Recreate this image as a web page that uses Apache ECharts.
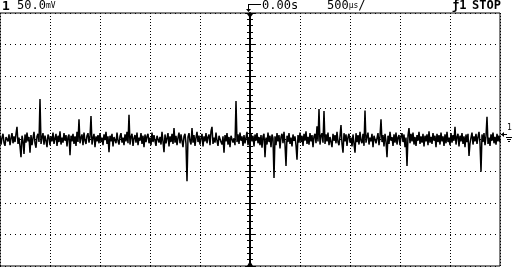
<!DOCTYPE html>
<html><head><meta charset="utf-8">
<script src="https://cdn.jsdelivr.net/npm/echarts@6/dist/echarts.min.js"></script>
<style>html,body{margin:0;padding:0;background:#fff}#c{width:512px;height:280px}</style>
</head><body><div id="c"></div>
<script>
// Channel 1 trace, mV, one sample every 10 µs from -2500 µs
const startUs = -2500;
const stepUs = 10;
const traceMv = [
 6,-8,3,9,-5,-10,4,7,-3,8,-9,2,10,-6,5,-4,9,20,-7,3,-11,-28,6,-2,-23,
 8,-5,11,-3,4,-21,7,-9,2,12,-6,-13,5,9,-4,64,-7,3,10,-8,6,-2,-12,8,4,
 -9,5,-3,11,-7,2,9,-10,6,-4,13,-8,3,-5,10,-2,7,-11,4,8,-25,6,-3,9,-7,
 5,-10,12,-4,32,-6,3,8,-9,11,-2,-7,6,10,-5,4,37,-8,2,9,-12,5,-3,7,-6,
 10,-4,3,-9,8,-1,12,-7,5,-20,6,-3,9,-11,4,7,-6,11,-2,-8,5,10,-5,3,-9,
 8,-3,12,-6,39,-8,4,9,-10,2,7,-5,11,-9,3,-2,10,-7,6,-12,8,-4,5,9,-6,
 3,-9,11,-4,7,-2,-10,6,9,-5,4,-8,12,-3,-20,8,-6,2,10,-11,5,-4,9,-7,18,
 -5,6,-9,3,11,-6,8,-2,-12,5,9,-7,-66,4,10,-3,-8,18,-5,7,-10,3,12,-4,6,
 -8,2,9,-11,5,-3,10,-6,4,8,-9,13,20,-7,3,-5,11,-2,-10,6,9,-4,-8,5,-21,
 7,-3,10,-8,4,-12,6,9,-5,2,-9,61,-4,8,-7,11,-2,5,-10,7,-6,3,12,-9,4,
 -7,9,-3,6,-11,8,-2,10,-6,4,-9,7,-13,5,9,-28,3,-8,11,-4,6,-12,8,2,-61,
 5,-9,10,-3,7,-14,4,9,-6,12,-8,-42,6,-4,10,-7,3,-11,8,-2,5,-9,-32,7,-5,
 11,-4,6,-10,9,-2,13,-7,4,-8,10,-3,7,-12,5,9,-6,21,-3,48,-8,6,10,-5,45,
 -7,8,-3,11,-9,4,6,-12,9,-2,7,-6,12,-4,-9,5,23,-7,-21,10,-3,8,-10,4,9,
 -5,3,-11,8,6,-21,10,-4,7,-8,12,-2,-6,9,-10,46,-5,4,11,-8,3,-3,9,-12,6,
 8,-6,2,10,-9,5,32,-4,7,-11,9,-3,-28,6,-7,12,-2,4,-10,8,-5,11,-8,3,7,
 -9,5,10,-4,8,-12,3,-42,6,18,-6,9,-3,11,-8,4,-10,7,-2,12,-7,5,-5,9,-11,
 6,-3,8,-9,13,-5,4,-7,10,-2,6,-12,9,-4,7,-8,11,-3,5,-10,8,-6,12,-4,3,
 -9,10,-5,7,-2,20,-8,4,9,-11,6,-3,10,-7,5,-12,8,-4,9,-26,-6,3,11,-8,5,
 -3,9,-7,4,12,-6,-51,8,-4,10,-9,5,36,-7,3,-10,8,-2,11,-6,4,-8,9,-3,6,
 -4
];
// axis settings (screen divisions)
const xMinUs = -2500, xMaxUs = 2500, xDivUs = 500;
const yMinMv = -200, yMaxMv = 200, yDivMv = 50;
// header texts
const chLabel = '1';
const voltsDiv = '50.0';
const voltsUnit = 'mV';
const trigDelay = '0.00s';
const timeDiv = '500';
const timeUnit = 'µs';
const trigSrc = 'ƒ1';
const runState = 'STOP';

const data = traceMv.map((v, i) => [startUs + i * stepUs, v]);
const font = '"DejaVu Sans Mono", monospace';

const chart = echarts.init(document.getElementById('c'), null, {renderer: 'canvas'});
const centerAxis = (inside) => ({
  type: 'value', min: yMinMv, max: yMaxMv, interval: yDivMv,
  position: 'left', offset: -250,
  axisLine: {show: false},
  axisTick: {show: true, inside: inside, length: 5, lineStyle: {color: '#000', width: 1}},
  minorTick: {show: true, splitNumber: 5, length: 3, lineStyle: {color: '#000', width: 1}},
  axisLabel: {show: false}, splitLine: {show: false}
});
chart.setOption({
  animation: false,
  backgroundColor: '#fff',
  grid: {left: 0, top: 13, width: 500, height: 253, show: true, borderColor: '#000', borderWidth: 1},
  xAxis: {
    type: 'value', min: xMinUs, max: xMaxUs, interval: xDivUs,
    axisLine: {show: false}, axisTick: {show: false}, axisLabel: {show: false},
    splitLine: {show: true, lineStyle: {color: '#000', width: 1, type: [1, 2]}}
  },
  yAxis: [{
    type: 'value', min: yMinMv, max: yMaxMv, interval: yDivMv,
    axisLine: {show: true, lineStyle: {color: '#000', width: 2}}, axisTick: {show: false}, axisLabel: {show: false},
    splitLine: {show: true, lineStyle: {color: '#000', width: 1, type: [1, 4]}}
  }, centerAxis(true), centerAxis(false)],
  series: [{
    type: 'line', data: data, showSymbol: false, symbol: 'none',
    lineStyle: {color: '#000', width: 1.5}, z: 5
  }],
  graphic: [
    {type: 'text', left: 2, top: 0, style: {text: chLabel, font: 'bold 13px ' + font, fill: '#000'}},
    {type: 'text', left: 17, top: 0, style: {text: '{a|' + voltsDiv + '}{b|' + voltsUnit + '}',
      rich: {a: {font: '12px ' + font, fill: '#000'}, b: {font: '8px ' + font, fill: '#000'}}}},
    // trigger reference glyph
    {type: 'line', shape: {x1: 248.5, y1: 4, x2: 248.5, y2: 11}, style: {stroke: '#000', lineWidth: 1}},
    {type: 'polygon', shape: {points: [[246, 9], [251, 9], [248.5, 12]]}, style: {fill: '#000'}},
    {type: 'line', shape: {x1: 248, y1: 4.5, x2: 261, y2: 4.5}, style: {stroke: '#000', lineWidth: 1}},
    {type: 'text', left: 262, top: 0, style: {text: trigDelay, font: '12px ' + font, fill: '#000'}},
    {type: 'text', left: 327, top: 0, style: {text: '{a|' + timeDiv + '}{b|' + timeUnit + '}{a|/}',
      rich: {a: {font: '12px ' + font, fill: '#000'}, b: {font: '8px ' + font, fill: '#000'}}}},
    {type: 'text', left: 452, top: 0, style: {text: trigSrc, font: 'bold 12px ' + font, fill: '#000'}},
    {type: 'text', left: 472, top: 0, style: {text: runState, font: 'bold 12px ' + font, fill: '#000'}},
    // trigger position markers
    {type: 'polygon', shape: {points: [[247, 14], [253, 14], [250, 18]]}, style: {fill: '#000'}, z: 10},
    {type: 'polygon', shape: {points: [[247, 266], [253, 266], [250, 261]]}, style: {fill: '#000'}, z: 10},
    // ground reference marker
    {type: 'line', shape: {x1: 501, y1: 134.5, x2: 507, y2: 134.5}, style: {stroke: '#000', lineWidth: 1}},
    {type: 'polygon', shape: {points: [[501, 134.5], [504, 132], [504, 137]]}, style: {fill: '#000'}},
    {type: 'text', left: 507, top: 124, style: {text: '1', font: '8px ' + font, fill: '#000'}},
    {type: 'line', shape: {x1: 506, y1: 137.5, x2: 512, y2: 137.5}, style: {stroke: '#000', lineWidth: 1}},
    {type: 'line', shape: {x1: 507, y1: 139.5, x2: 511, y2: 139.5}, style: {stroke: '#000', lineWidth: 1}},
    {type: 'line', shape: {x1: 508, y1: 141.5, x2: 510, y2: 141.5}, style: {stroke: '#000', lineWidth: 1}}
  ]
});
</script></body></html>
